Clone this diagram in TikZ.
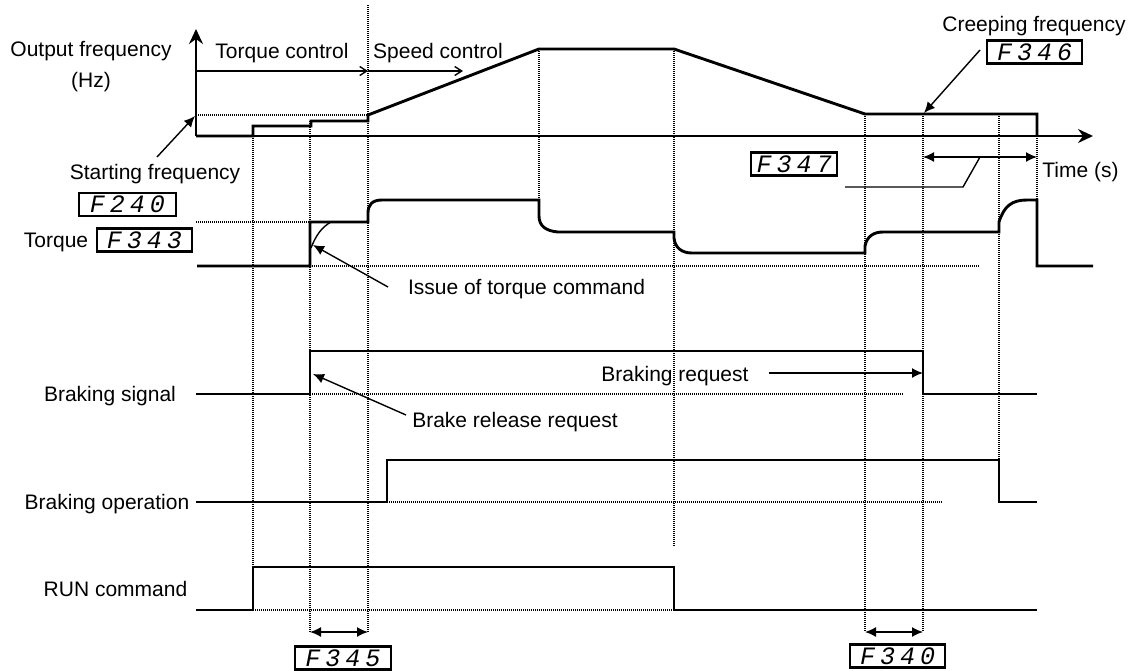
\documentclass[tikz,border=0pt]{standalone}
\usepackage{fontspec}
\setmainfont{Liberation Sans}
\newfontfamily\segfont{Liberation Mono}[LetterSpace=20]
\usetikzlibrary{arrows.meta}
\tikzset{
  lbl/.style={font=\fontsize{10.5pt}{12pt}\selectfont, inner sep=0pt, anchor=base},
  segbox/.style={draw, line width=1.1pt, inner sep=0pt, minimum height=11.5pt,
    font=\segfont\fontsize{12.5pt}{12.5pt}\selectfont\itshape},
  trace/.style={line width=1.45pt, line join=miter},
  axisln/.style={line width=1.2pt, -{Stealth[length=7.5pt,width=7pt,inset=2.5pt]}},
  dots/.style={line width=0.6pt, dash pattern=on 0.5pt off 0.5pt},
  thinln/.style={line width=0.7pt},
  ptr/.style={line width=0.7pt, -{Latex[length=5.5pt,width=5pt]}},
  dbl/.style={line width=0.7pt, {Latex[length=5.5pt,width=5pt]}-{Latex[length=5.5pt,width=5pt]}},
  barb/.style={line width=0.7pt, -{Straight Barb[length=3.5pt,width=4.5pt]}}
}
\begin{document}
\begin{tikzpicture}[x=0.5pt,y=-0.5pt]
\useasboundingbox (0,0) rectangle (1136,670);

% ---- dotted guide lines ----
\draw[dots] (196,115) -- (368,115);
\draw[dots] (196,222) -- (310,222);
\draw[dots] (310,266) -- (980,266);
\draw[dots] (310,394) -- (904,394);
\draw[dots] (387,502) -- (943,502);
\draw[dots] (253,610) -- (674,610);
\draw[dots] (253,126) -- (253,567);
\draw[dots] (310,121) -- (310,632);
\draw[dots] (368,5) -- (368,632);
\draw[dots] (539,49) -- (539,200);
\draw[dots] (674,49) -- (674,546);
\draw[dots] (865,114) -- (865,632);
\draw[dots] (923,114) -- (923,632);
\draw[dots] (999,114) -- (999,460);
\draw[dots] (1037,136) -- (1037,200);

% ---- axes ----
\coordinate (org) at (196,136);
\coordinate (ytip) at (196,29);
\coordinate (xtip) at (1093,136);
\draw[axisln] (org) -- (ytip);
\draw[axisln] (org) -- (xtip);

% ---- output frequency trace ----
\draw[trace] (196,136) -- (253,136) -- (253,126) -- (311,126) -- (311,121) -- (368,121)
  -- (368,115) -- (539,49) -- (674,49) -- (865,114) -- (1037,114) -- (1037,136);

% ---- torque trace ----
\draw[trace] (197,266) -- (310,266) -- (310,222) -- (368,222) -- (368,213)
  .. controls (368,205) and (372,200) .. (382,200) -- (539,200) -- (539,216)
  .. controls (539,226) and (546,231) .. (558,232) -- (674,232) -- (674,238)
  .. controls (675,248) and (682,253) .. (692,253) -- (865,253) -- (865,246)
  .. controls (867,236) and (874,232) .. (883,232) -- (999,232) -- (999,222)
  .. controls (1004,206) and (1012,200) .. (1027,200) -- (1037,200) -- (1037,266) -- (1093,266);
\draw[thinln] (311,248) .. controls (316,235) and (322,227) .. (331,222);

% ---- braking signal, braking operation, RUN ----
\draw[trace] (196,394) -- (310,394) -- (310,351) -- (923,351) -- (923,394) -- (1037,394);
\draw[trace] (196,502) -- (387,502) -- (387,460) -- (999,460) -- (999,502) -- (1037,502);
\draw[trace] (196,610) -- (253,610) -- (253,567) -- (674,567) -- (674,610) -- (1037,610);

% ---- labels ----
\node[lbl] (tOut) at (91,56) {Output frequency};
\node[lbl] (tHz) at (91,87) {(Hz)};
\node[lbl] (tTqCtl) at (282,58) {Torque control};
\node[lbl] (tSpCtl) at (438,58) {Speed control};
\node[lbl] (tStart) at (155,179) {Starting frequency};
\node[segbox, minimum width=48.5pt] (bF240) at (127.5,204.5) {F240};
\node[lbl] (tTorque) at (56,247) {Torque};
\node[segbox, minimum width=47.5pt] (bF343) at (144.5,240) {F343};
\node[lbl] (tIssue) at (526.5,294) {Issue of torque command};
\node[lbl] (tBrSig) at (110,401) {Braking signal};
\node[lbl] (tBrReq) at (675,381) {Braking request};
\node[lbl] (tBrRel) at (515,427) {Brake release request};
\node[lbl] (tBrOp) at (107,509) {Braking operation};
\node[lbl] (tRun) at (115.5,596) {RUN command};
\node[segbox, minimum width=48pt] (bF345) at (343,658) {F345};
\node[segbox, minimum width=47.5pt] (bF340) at (897.5,656) {F340};
\node[lbl] (tCreep) at (1034,31) {Creeping frequency};
\node[segbox, minimum width=47.5pt] (bF346) at (1034.5,52) {F346};
\node[segbox, minimum width=43pt] (bF347) at (794,164) {F347};
\node[lbl] (tTime) at (1080.5,177) {Time (s)};

% ---- control arrows ----
\coordinate (tc0) at (196,71);
\coordinate (tc1) at (368,71);
\coordinate (sc1) at (463,71);
\draw[barb] (tc0) -- (tc1);
\draw[barb] (tc1) -- (sc1);

% ---- pointer arrows ----
\coordinate (sfA) at (157,157);
\coordinate (sfB) at (195,116);
\draw[ptr] (sfA) -- (sfB);
\coordinate (cfA) at (980,50);
\coordinate (cfB) at (924,113);
\draw[ptr] (cfA) -- (cfB);
\coordinate (itA) at (388,287);
\coordinate (itB) at (313,245);
\draw[ptr] (itA) -- (itB);
\coordinate (brA) at (406,415);
\coordinate (brB) at (313,374);
\draw[ptr] (brA) -- (brB);
\coordinate (bqA) at (769,373);
\coordinate (bqB) at (923,373);
\draw[ptr] (bqA) -- (bqB);

% ---- interval arrows ----
\coordinate (i345a) at (310,632);
\coordinate (i345b) at (368,632);
\draw[dbl] (i345a) -- (i345b);
\coordinate (i340a) at (865,632);
\coordinate (i340b) at (923,632);
\draw[dbl] (i340a) -- (i340b);
\coordinate (i347a) at (923,157);
\coordinate (i347b) at (1037,157);
\draw[dbl] (i347a) -- (i347b);
\coordinate (l347a) at (980,157);
\coordinate (l347b) at (963,187);
\coordinate (l347c) at (845,187);
\draw[thinln] (l347a) -- (l347b) -- (l347c);
\end{tikzpicture}
\end{document}
